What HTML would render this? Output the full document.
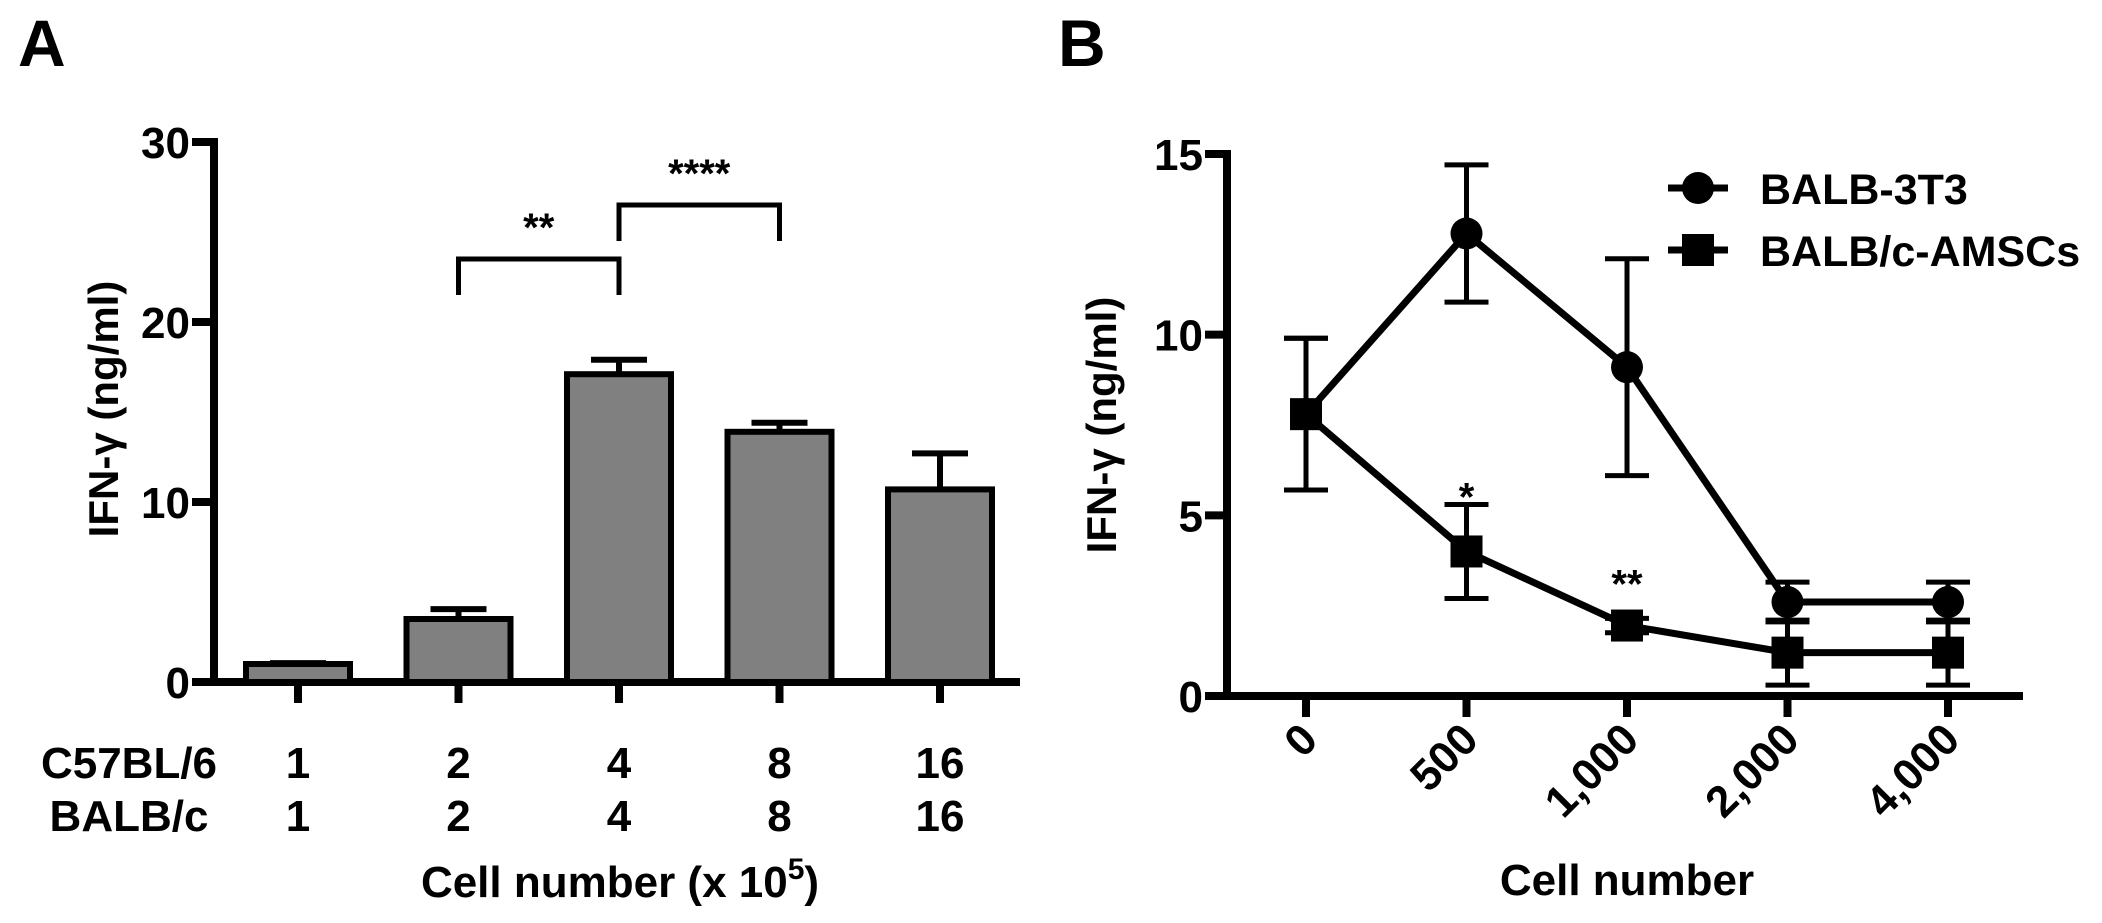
<!DOCTYPE html>
<html><head><meta charset="utf-8"><style>
html,body{margin:0;padding:0;background:#fff;}
svg text{font-family:"Liberation Sans",Arial,sans-serif;font-weight:bold;fill:#000;}
</style></head><body>
<svg id="fig" width="2102" height="918" viewBox="0 0 2102 918" xmlns="http://www.w3.org/2000/svg">
<text x="18" y="66" font-size="66">A</text>
<text x="1058" y="66" font-size="66">B</text>
<g id="pa"></g>
<g id="pb"></g>
</svg>
<script>
// ---------- Panel A data ----------
const aCats = ['1','2','4','8','16'];
const aCatsBalb = ['1','2','4','8','16'];
const aValues = [1.0, 3.5, 17.1, 13.9, 10.7];
const aErrors = [0.05, 0.55, 0.8, 0.5, 2.0];
const aYTicks = [0, 10, 20, 30];
// ---------- Panel B data ----------
const bCats = ['0','500','1,000','2,000','4,000'];
const b3t3 = [7.8, 12.8, 9.1, 2.6, 2.6];
const b3t3Err = [2.1, 1.9, 3.0, 0.55, 0.55];
const bAmsc = [7.8, 4.0, 1.95, 1.2, 1.2];
const bAmscErr = [2.1, 1.3, 0.2, 0.9, 0.9];
const bYTicks = [0, 5, 10, 15];

const NS='http://www.w3.org/2000/svg';
function mk(parent, tag, attrs, txt){const e=document.createElementNS(NS,tag);for(const k in attrs)e.setAttribute(k,attrs[k]);if(txt!==undefined)e.textContent=txt;parent.appendChild(e);return e;}

// ---------- Panel A ----------
(function(){
const g=document.getElementById('pa');
const x0=214, x1=1020, yTop=142, yBase=682, yMax=30;
const ay=v=>yBase-(v/yMax)*(yBase-yTop);
const ax=i=>298+i*160.5;
let l=mk(g,'line',{x1:x0,y1:yTop-4,x2:x0,y2:yBase+4,stroke:'#000','stroke-width':8});
 
l=mk(g,'line',{x1:x0-4,y1:yBase,x2:x1,y2:yBase,stroke:'#000','stroke-width':8});
 
aYTicks.forEach(v=>{
  const t=mk(g,'line',{x1:x0-22,y1:ay(v),x2:x0,y2:ay(v),stroke:'#000','stroke-width':8});
   
  const tx=mk(g,'text',{x:x0-24,y:ay(v)+16,'font-size':44,'text-anchor':'end'},String(v));
   
});
aValues.forEach((v,i)=>{
  const cx=ax(i), w=104;
  const e=mk(g,'path',{d:`M${cx-28},${ay(v+aErrors[i])}H${cx+28}M${cx},${ay(v+aErrors[i])}V${ay(v)}`,stroke:'#000','stroke-width':6,fill:'none'});
   
  const r=mk(g,'rect',{x:cx-w/2,y:ay(v),width:w,height:yBase-ay(v),fill:'#808080',stroke:'#000','stroke-width':6});
   
  const t=mk(g,'line',{x1:cx,y1:yBase,x2:cx,y2:703,stroke:'#000','stroke-width':8});
   
  const a=mk(g,'text',{x:cx,y:778,'font-size':44,'text-anchor':'middle'},aCats[i]);
   
  const b=mk(g,'text',{x:cx,y:831,'font-size':44,'text-anchor':'middle'},aCatsBalb[i]);
   
});
let t=mk(g,'text',{x:129,y:778,'font-size':44,'text-anchor':'middle'},'C57BL/6');
 
t=mk(g,'text',{x:129,y:831,'font-size':44,'text-anchor':'middle'},'BALB/c');
 
t=mk(g,'text',{x:620,y:897,'font-size':44,'text-anchor':'middle'});
 
t.innerHTML='Cell number (x 10<tspan dy="-18" font-size="30">5</tspan><tspan dy="18">)</tspan>';
t=mk(g,'text',{transform:'translate(118,409) rotate(-90)','font-size':42,'text-anchor':'middle'},'IFN-γ (ng/ml)');
 
const br=[[1,2,23.5,21.5,'**'],[2,3,26.5,24.5,'****']];
br.forEach(b=>{
  const p=mk(g,'path',{d:`M${ax(b[0])},${ay(b[3])}V${ay(b[2])}H${ax(b[1])}V${ay(b[3])}`,stroke:'#000','stroke-width':5,fill:'none'});
   
  const s=mk(g,'text',{x:(ax(b[0])+ax(b[1]))/2,y:ay(b[2])-18,'font-size':40,'text-anchor':'middle'},b[4]);
   
});
})();

// ---------- Panel B ----------
(function(){
const g=document.getElementById('pb');
const x0=1227, x1=2023, yTop=154, yBase=696, yMax=15;
const by=v=>yBase-(v/yMax)*(yBase-yTop);
const bx=i=>1306+i*160.5;
let l=mk(g,'line',{x1:x0,y1:yTop-4,x2:x0,y2:yBase+4,stroke:'#000','stroke-width':8});
 
l=mk(g,'line',{x1:x0-4,y1:yBase,x2:x1,y2:yBase,stroke:'#000','stroke-width':8});
 
bYTicks.forEach(v=>{
  const t=mk(g,'line',{x1:x0-22,y1:by(v),x2:x0,y2:by(v),stroke:'#000','stroke-width':8});
   
  const tx=mk(g,'text',{x:x0-24,y:by(v)+16,'font-size':44,'text-anchor':'end'},String(v));
   
});
bCats.forEach((c,i)=>{
  const t=mk(g,'line',{x1:bx(i),y1:yBase,x2:bx(i),y2:717,stroke:'#000','stroke-width':8});
   
  const tx=mk(g,'text',{transform:`translate(${bx(i)+14},${742}) rotate(-45)`,'font-size':44,'text-anchor':'end'},c);
   
});
function series(vals,errs,shape,name){
  vals.forEach((v,i)=>{
    const e=mk(g,'path',{d:`M${bx(i)-22},${by(v+errs[i])}H${bx(i)+22}M${bx(i)},${by(v+errs[i])}V${by(v-errs[i])}M${bx(i)-22},${by(v-errs[i])}H${bx(i)+22}`,stroke:'#000','stroke-width':5,fill:'none'});
     
  });
  const p=mk(g,'polyline',{points:vals.map((v,i)=>bx(i)+','+by(v)).join(' '),stroke:'#000','stroke-width':7,fill:'none','stroke-linejoin':'round'});
   
  vals.forEach((v,i)=>{
    let m;
    if(shape==='circle') m=mk(g,'circle',{cx:bx(i),cy:by(v),r:16,fill:'#000'});
    else m=mk(g,'rect',{x:bx(i)-16,y:by(v)-16,width:32,height:32,fill:'#000'});
     
  });
}
series(b3t3,b3t3Err,'circle','balb-3t3');
series(bAmsc,bAmscErr,'square','balbc-amscs');
let s=mk(g,'text',{x:bx(1),y:by(bAmsc[1]+bAmscErr[1])+6,'font-size':40,'text-anchor':'middle'},'*');
 
s=mk(g,'text',{x:bx(2),y:by(bAmsc[2])-28,'font-size':40,'text-anchor':'middle'},'**');
 
let lg=mk(g,'line',{x1:1668,y1:188,x2:1728,y2:188,stroke:'#000','stroke-width':7});
 
lg=mk(g,'circle',{cx:1698,cy:188,r:16,fill:'#000'});
 
lg=mk(g,'text',{x:1760,y:204,'font-size':43},'BALB-3T3');
 
lg=mk(g,'line',{x1:1668,y1:250,x2:1728,y2:250,stroke:'#000','stroke-width':7});
 
lg=mk(g,'rect',{x:1682,y:234,width:32,height:32,fill:'#000'});
 
lg=mk(g,'text',{x:1760,y:266,'font-size':43},'BALB/c-AMSCs');
 
let t=mk(g,'text',{x:1627,y:895,'font-size':44,'text-anchor':'middle'},'Cell number');
 
t=mk(g,'text',{transform:'translate(1116,425) rotate(-90)','font-size':42,'text-anchor':'middle'},'IFN-γ (ng/ml)');
 
})();
</script>
</body></html>
